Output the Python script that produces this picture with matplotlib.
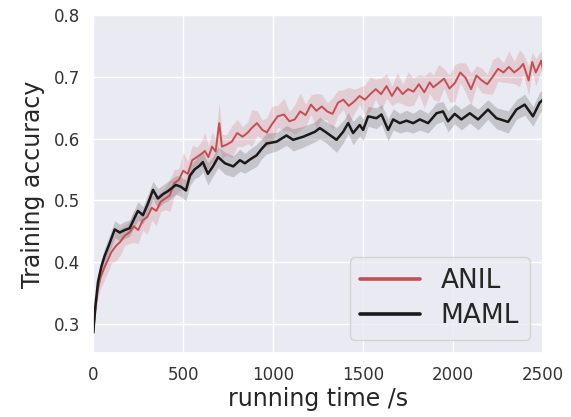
import matplotlib
matplotlib.use("Agg")
import matplotlib.pyplot as plt
import seaborn as sns
import numpy as np

sns.set_theme(style="darkgrid")
plt.rcParams['font.family'] = ['DejaVu Sans']

# ANIL (red)
anil_t = [0, 5, 12, 25, 40, 60, 80, 100, 125, 150, 175, 200, 225, 250, 275, 300, 325, 350, 375,
          400, 425, 450, 475, 500, 525, 550, 575, 600, 620, 640, 660, 680, 700, 715, 740,
          770, 800, 830, 860, 880, 910, 940, 965, 990, 1025, 1060, 1090, 1120, 1150, 1180,
          1210, 1240, 1270, 1300, 1330, 1360, 1390, 1420, 1450, 1480, 1510, 1540, 1570,
          1600, 1630, 1660, 1690, 1720, 1750, 1780, 1810, 1840, 1870, 1890, 1920, 1950,
          1980, 2010, 2040, 2070, 2100, 2130, 2160, 2190, 2220, 2250, 2280, 2310, 2340,
          2370, 2390, 2420, 2440, 2460, 2490, 2500]
anil_acc = [0.285, 0.305, 0.325, 0.355, 0.375, 0.390, 0.403, 0.416, 0.426, 0.433, 0.443, 0.448,
            0.458, 0.452, 0.468, 0.473, 0.488, 0.483, 0.498, 0.503, 0.508, 0.528, 0.533,
            0.548, 0.543, 0.565, 0.570, 0.575, 0.580, 0.570, 0.587, 0.579, 0.625, 0.587,
            0.590, 0.595, 0.609, 0.603, 0.610, 0.617, 0.625, 0.614, 0.610, 0.622, 0.636,
            0.639, 0.628, 0.631, 0.644, 0.638, 0.655, 0.645, 0.652, 0.644, 0.640, 0.658,
            0.663, 0.653, 0.660, 0.669, 0.663, 0.672, 0.680, 0.672, 0.685, 0.669, 0.683,
            0.672, 0.680, 0.676, 0.688, 0.675, 0.691, 0.683, 0.690, 0.697, 0.681, 0.690,
            0.707, 0.698, 0.680, 0.702, 0.694, 0.688, 0.700, 0.713, 0.707, 0.716, 0.707,
            0.714, 0.721, 0.694, 0.724, 0.707, 0.726, 0.710]
anil_err = [0.004, 0.008, 0.012, 0.015, 0.018, 0.02, 0.02, 0.018, 0.024, 0.022, 0.016, 0.018,
            0.026, 0.022, 0.016, 0.028, 0.02, 0.024, 0.016, 0.018, 0.026, 0.022, 0.018, 0.03,
            0.02, 0.024, 0.016, 0.02, 0.03, 0.018, 0.024, 0.02, 0.035, 0.02, 0.016, 0.026,
            0.022, 0.016, 0.018, 0.03, 0.02, 0.016, 0.024, 0.03, 0.018, 0.026, 0.016, 0.024,
            0.03, 0.018, 0.016, 0.028, 0.02, 0.014, 0.026, 0.02, 0.016, 0.03, 0.02, 0.014,
            0.024, 0.028, 0.016, 0.026, 0.02, 0.016, 0.024, 0.016, 0.028, 0.022, 0.016,
            0.026, 0.018, 0.02, 0.03, 0.016, 0.022, 0.03, 0.016, 0.024, 0.026, 0.016, 0.02,
            0.016, 0.028, 0.02, 0.016, 0.026, 0.018, 0.03, 0.016, 0.024, 0.016, 0.022, 0.016,
            0.014]

# MAML (black)
maml_t = [0, 5, 12, 26, 45, 63, 90, 119, 147, 175, 202, 248, 276, 304, 332, 359, 387, 415, 459,
          487, 515, 537, 563, 590, 609, 637, 665, 694, 732, 778, 815, 843, 870, 908, 935,
          963, 1019, 1074, 1111, 1167, 1232, 1259, 1290, 1352, 1389, 1417, 1444, 1481,
          1500, 1528, 1574, 1602, 1639, 1667, 1704, 1741, 1778, 1815, 1861, 1908, 1944,
          1972, 2009, 2046, 2093, 2139, 2194, 2241, 2306, 2352, 2398, 2444, 2481, 2500]
maml_acc = [0.286, 0.305, 0.33, 0.368, 0.393, 0.41, 0.43, 0.453, 0.448, 0.452, 0.455, 0.483,
            0.476, 0.495, 0.517, 0.503, 0.510, 0.515, 0.525, 0.522, 0.516, 0.540, 0.550,
            0.556, 0.562, 0.543, 0.555, 0.570, 0.560, 0.555, 0.565, 0.560, 0.566, 0.573,
            0.583, 0.592, 0.595, 0.605, 0.598, 0.603, 0.611, 0.617, 0.611, 0.598, 0.611,
            0.625, 0.609, 0.622, 0.614, 0.636, 0.633, 0.639, 0.614, 0.631, 0.625, 0.629,
            0.625, 0.631, 0.625, 0.641, 0.644, 0.628, 0.640, 0.631, 0.641, 0.631, 0.647,
            0.633, 0.627, 0.647, 0.655, 0.636, 0.658, 0.663]
maml_err = [0.004, 0.007, 0.01, 0.012, 0.012, 0.013, 0.013, 0.014, 0.013, 0.014, 0.013, 0.015,
            0.014, 0.015, 0.014, 0.016, 0.015, 0.016, 0.015, 0.016, 0.017, 0.016, 0.015,
            0.017, 0.016, 0.018, 0.016, 0.017, 0.018, 0.017, 0.018, 0.016, 0.017, 0.018,
            0.016, 0.017, 0.015, 0.016, 0.018, 0.017, 0.016, 0.018, 0.017, 0.02, 0.018,
            0.017, 0.019, 0.017, 0.018, 0.016, 0.017, 0.016, 0.018, 0.017, 0.016, 0.017,
            0.016, 0.017, 0.016, 0.017, 0.016, 0.017, 0.016, 0.017, 0.016, 0.017, 0.016,
            0.017, 0.018, 0.016, 0.017, 0.016, 0.017, 0.015]

x_ticks = [0, 500, 1000, 1500, 2000, 2500]
y_ticks = [0.3, 0.4, 0.5, 0.6, 0.7, 0.8]

fig = plt.figure(figsize=(5.71, 4.17), dpi=100)
ax = fig.add_axes([0.1634, 0.1535, 0.7876, 0.8105])

red = "#C44E52"
dark = "#1a1a1a"

a_t = np.array(anil_t); a_y = np.array(anil_acc); a_e = np.array(anil_err)
m_t = np.array(maml_t); m_y = np.array(maml_acc); m_e = np.array(maml_err)

ax.fill_between(a_t, a_y - a_e, a_y + a_e, color=red, alpha=0.18, linewidth=0)
ax.fill_between(m_t, m_y - m_e, m_y + m_e, color="#555555", alpha=0.25, linewidth=0)
ax.plot(a_t, a_y, color=red, lw=1.4, label="ANIL")
ax.plot(m_t, m_y, color=dark, lw=1.8, label="MAML")

ax.set_xlim(0, 2500)
ax.set_ylim(0.253, 0.8)
ax.set_xticks(x_ticks)
ax.set_yticks(y_ticks)
ax.set_yticklabels([f"{v:.1f}" for v in y_ticks])
ax.tick_params(labelsize=12, colors="#333333")
ax.set_xlabel("running time /s", fontsize=17, color="#262626", labelpad=2)
ax.set_ylabel("Training accuracy", fontsize=17, color="#262626", labelpad=6)

leg = ax.legend(loc="lower right", fontsize=19, handlelength=2.25, borderpad=0.4,
                labelspacing=0.35, handletextpad=0.8)
for line in leg.get_lines():
    line.set_linewidth(2.6)

fig.savefig("out.png", dpi=100)
